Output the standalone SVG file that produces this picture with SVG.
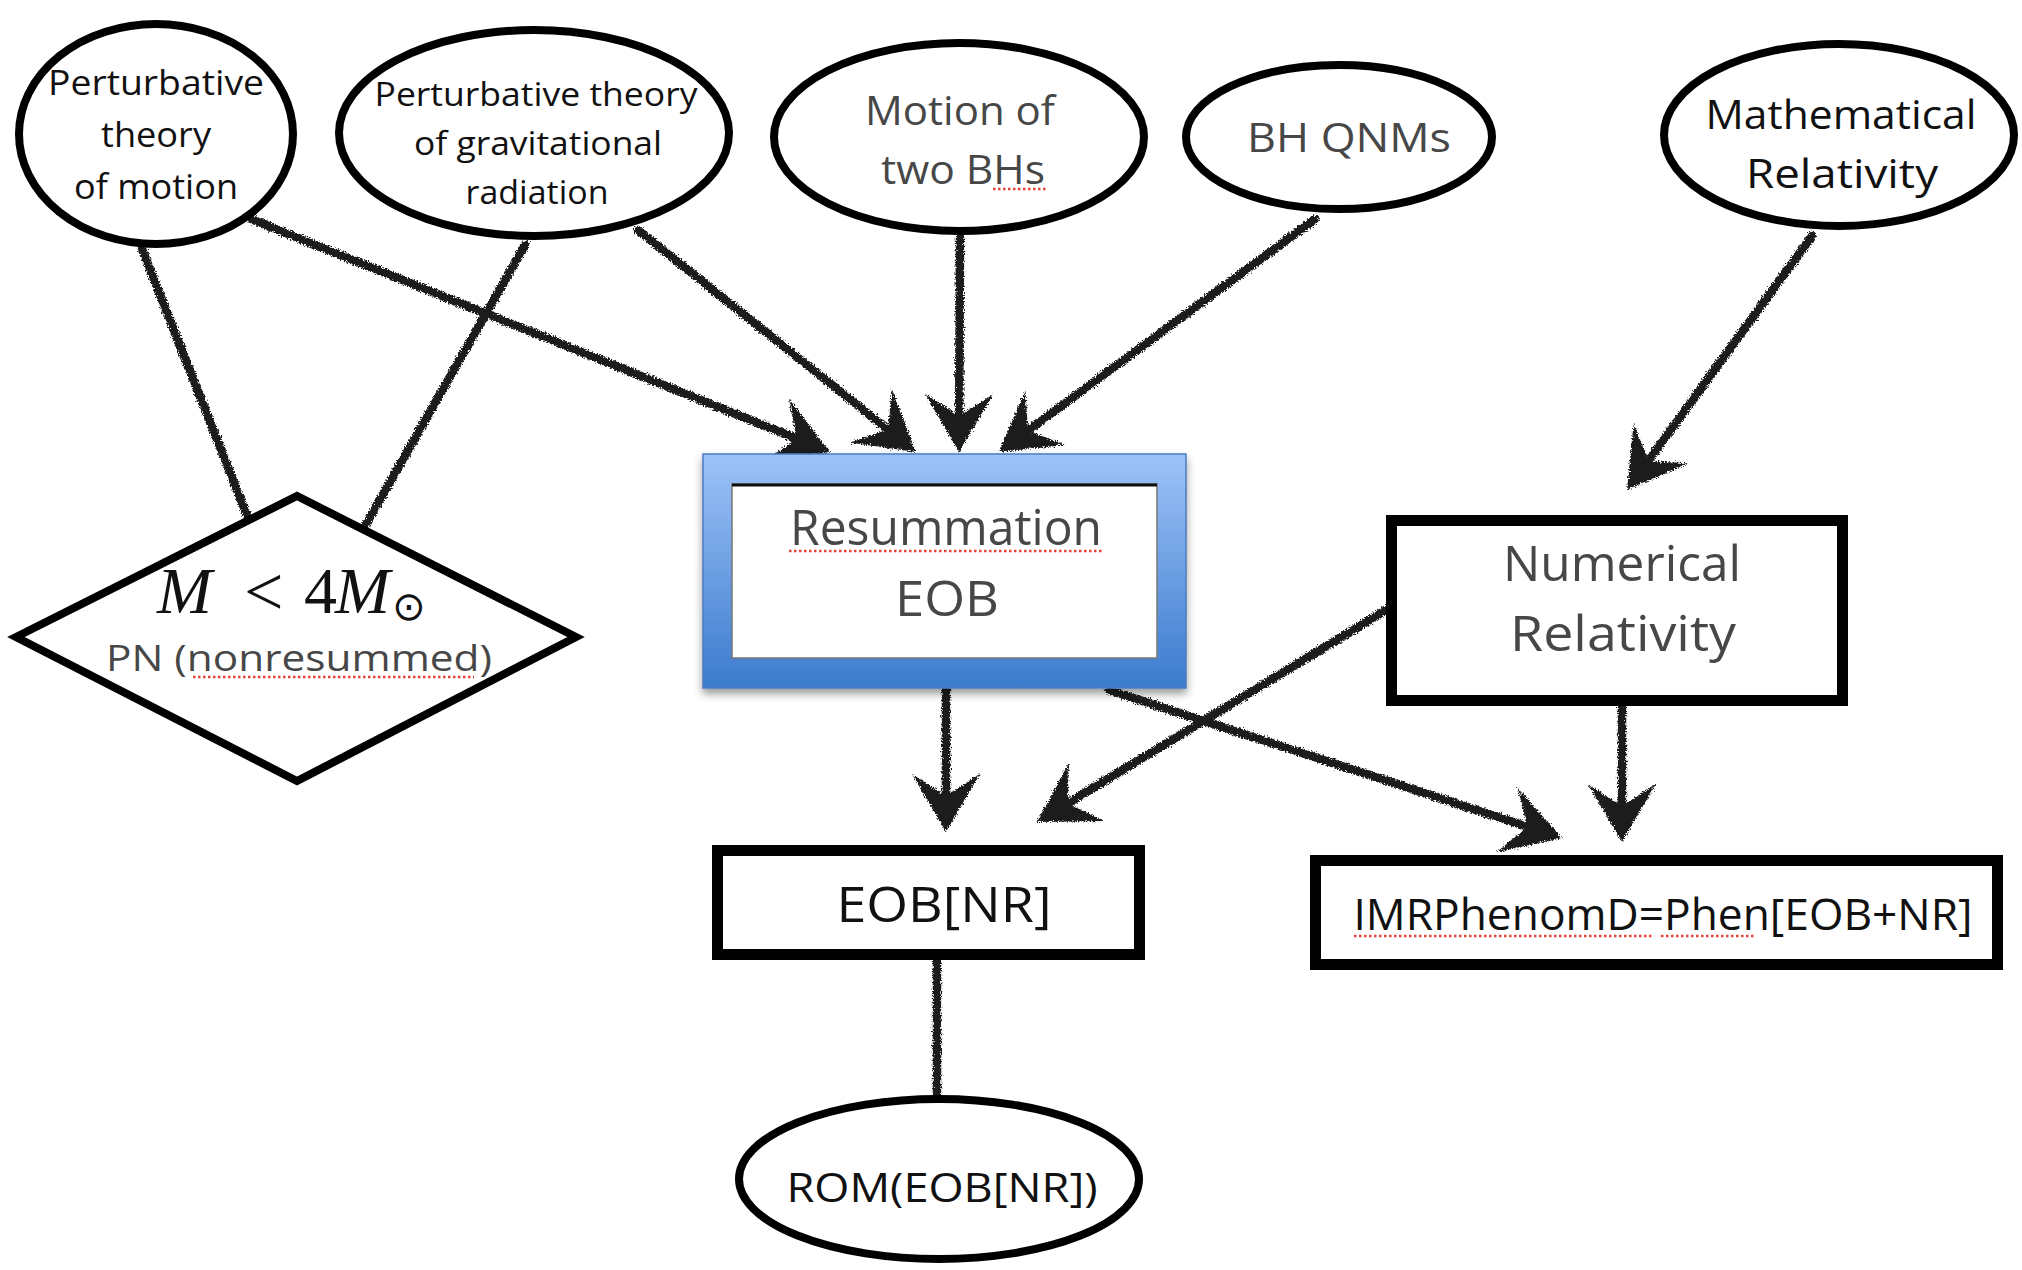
<svg xmlns="http://www.w3.org/2000/svg" width="2022" height="1270" viewBox="0 0 2022 1270">
<style>
.ell{fill:#fff;stroke:#000;stroke-width:8}
.box{fill:#fff;stroke:#000;stroke-width:11}
.t{font-family:"Open Sans","DejaVu Sans",sans-serif;text-anchor:middle}
.k{fill:#111}
.g{fill:#474747}
.con{fill:none;stroke:#1c1c1c;stroke-width:8.5;stroke-linecap:round}
.arr{marker-end:url(#ah)}
.sp{fill:none;stroke:#e8443a;stroke-width:2.5;stroke-dasharray:2.5 2.5}
</style>
<defs>
<marker id="ah" viewBox="-62 -38 66 76" markerWidth="66" markerHeight="76" refX="-26" refY="0" orient="auto" markerUnits="userSpaceOnUse">
<path d="M0,0 L-58,-34 L-36,0 L-58,34 Z" fill="#1c1c1c"/>
</marker>
<filter id="rough" x="-5%" y="-5%" width="110%" height="110%">
<feTurbulence type="fractalNoise" baseFrequency="0.7" numOctaves="2" seed="3" result="n"/>
<feDisplacementMap in="SourceGraphic" in2="n" scale="6" xChannelSelector="R" yChannelSelector="G"/>
</filter>
<linearGradient id="blue" x1="0" y1="0" x2="0" y2="1">
<stop offset="0" stop-color="#9ec3f8"/>
<stop offset="1" stop-color="#3b7bcd"/>
</linearGradient>
<filter id="shadow" x="-5%" y="-5%" width="110%" height="115%">
<feDropShadow dx="0" dy="5" stdDeviation="4" flood-color="#000" flood-opacity="0.4"/>
</filter>
</defs>
<rect width="2022" height="1270" fill="#fff"/>

<g id="connectors" filter="url(#rough)">
<path class="con" d="M142,249 L248,518"/>
<path class="con" d="M525,245 L365,526"/>
<path class="con arr" d="M251,219 L805.9,442.3"/>
<path class="con arr" d="M638,230 L895.7,435.8"/>
<path class="con arr" d="M960,236 L959.1,426"/>
<path class="con arr" d="M1315,219 L1019.9,436.6"/>
<path class="con arr" d="M1812,236 L1642.3,469"/>
<path class="con arr" d="M946,690 L946,806"/>
<path class="con arr" d="M1386,610 L1059.2,808.5"/>
<path class="con arr" d="M1109,690 L1537.3,829.9"/>
<path class="con arr" d="M1622,706 L1622,816"/>
<path class="con" d="M937,958 L937,1098"/>
</g>

<g id="n1">
<ellipse class="ell" cx="156" cy="134" rx="137" ry="110"/>
<text class="t k" x="156" y="95" font-size="34" textLength="216" lengthAdjust="spacingAndGlyphs">Perturbative</text>
<text class="t k" x="156" y="147" font-size="34" textLength="110" lengthAdjust="spacingAndGlyphs">theory</text>
<text class="t k" x="156" y="199" font-size="34" textLength="164" lengthAdjust="spacingAndGlyphs">of motion</text>
</g>

<g id="n2">
<ellipse class="ell" cx="534" cy="133" rx="195" ry="103"/>
<text class="t k" x="536" y="106" font-size="32" textLength="323" lengthAdjust="spacingAndGlyphs">Perturbative theory</text>
<text class="t k" x="538" y="155" font-size="32" textLength="248" lengthAdjust="spacingAndGlyphs">of gravitational</text>
<text class="t k" x="537" y="204" font-size="32" textLength="143" lengthAdjust="spacingAndGlyphs">radiation</text>
</g>

<g id="n3">
<ellipse class="ell" cx="959" cy="137" rx="185" ry="94"/>
<text class="t g" x="960" y="125" font-size="40" textLength="190" lengthAdjust="spacingAndGlyphs">Motion of</text>
<text class="t g" x="963" y="184" font-size="40" textLength="164" lengthAdjust="spacingAndGlyphs">two BHs</text>
<path class="sp" d="M993,189 L1047,189"/>
</g>

<g id="n4">
<ellipse class="ell" cx="1339" cy="137" rx="153" ry="72"/>
<text class="t g" x="1349" y="152" font-size="40" textLength="204" lengthAdjust="spacingAndGlyphs">BH QNMs</text>
</g>

<g id="n5">
<ellipse class="ell" cx="1839" cy="135" rx="175" ry="91"/>
<text class="t k" x="1841" y="129" font-size="40" textLength="271" lengthAdjust="spacingAndGlyphs">Mathematical</text>
<text class="t k" x="1842" y="188" font-size="40" textLength="192" lengthAdjust="spacingAndGlyphs">Relativity</text>
</g>

<g id="n6">
<polygon points="16,637 297,496 576,637 297,781" fill="#fff" stroke="#000" stroke-width="8" stroke-linejoin="miter"/>
<text font-family="'Liberation Serif',serif" font-size="66" fill="#111" y="613"><tspan x="157" font-style="italic">M</tspan><tspan x="244" y="615" font-size="70">&lt;</tspan><tspan x="304" y="613">4</tspan><tspan x="335" font-style="italic">M</tspan><tspan x="392" y="620" font-family="'DejaVu Sans',sans-serif" font-size="40">⊙</tspan></text>
<text class="t g" x="299" y="671" font-size="36" textLength="386" lengthAdjust="spacingAndGlyphs">PN (nonresummed)</text>
<path class="sp" d="M193,677 L474,677"/>
</g>

<g id="n7">
<rect x="703" y="454" width="483" height="234" fill="url(#blue)" stroke="#4a7cc0" stroke-width="1.5" filter="url(#shadow)"/>
<rect x="732" y="484" width="425" height="174" fill="#fff" stroke="#777" stroke-width="1.5"/>
<path d="M732,485 L1157,485" stroke="#111" stroke-width="3"/>
<text class="t g" x="946" y="545" font-size="50" textLength="312" lengthAdjust="spacingAndGlyphs">Resummation</text>
<path class="sp" d="M789,551 L1103,551"/>
<text class="t g" x="947" y="616" font-size="50" textLength="104" lengthAdjust="spacingAndGlyphs">EOB</text>
</g>

<g id="n8">
<rect class="box" x="1391.5" y="520.5" width="451" height="180"/>
<text class="t g" x="1622" y="581" font-size="50" textLength="238" lengthAdjust="spacingAndGlyphs">Numerical</text>
<text class="t g" x="1623" y="651" font-size="50" textLength="226" lengthAdjust="spacingAndGlyphs">Relativity</text>
</g>

<g id="n9">
<rect class="box" x="717.5" y="850.5" width="422" height="104"/>
<text class="t k" x="944" y="922" font-size="50" textLength="215" lengthAdjust="spacingAndGlyphs">EOB[NR]</text>
</g>

<g id="n10">
<rect class="box" x="1315.5" y="860.5" width="682" height="104"/>
<text class="t k" x="1663" y="930" font-size="44" textLength="619" lengthAdjust="spacingAndGlyphs">IMRPhenomD=Phen[EOB+NR]</text>
<path class="sp" d="M1354,936 L1654,936 M1661,936 L1754,936"/>
</g>

<g id="n11">
<ellipse class="ell" cx="939" cy="1179" rx="200" ry="80"/>
<text class="t k" x="942" y="1202" font-size="40" textLength="311" lengthAdjust="spacingAndGlyphs">ROM(EOB[NR])</text>
</g>
</svg>
